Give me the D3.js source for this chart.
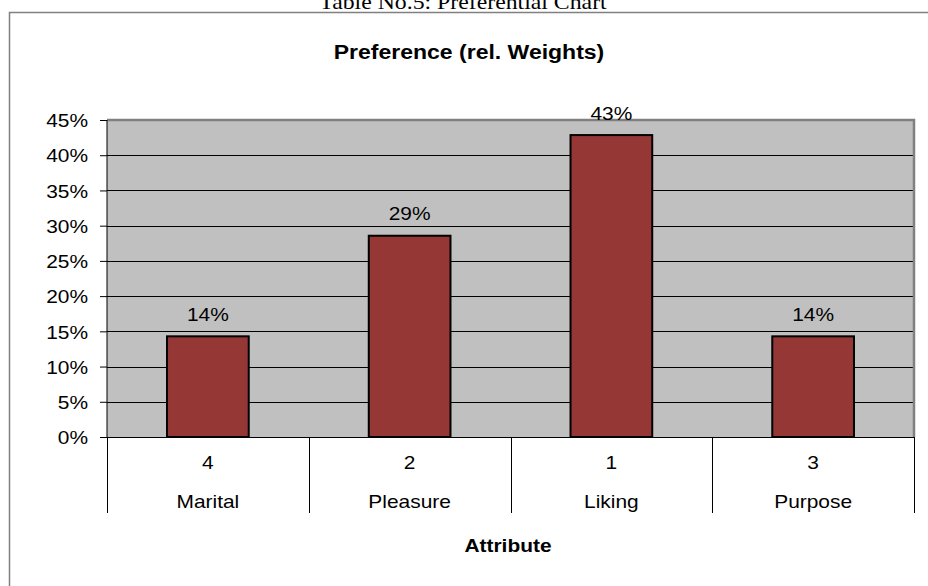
<!DOCTYPE html>
<html>
<head>
<meta charset="utf-8">
<script src="https://cdn.jsdelivr.net/npm/d3@7"></script>
<style>
  html, body { margin: 0; padding: 0; background: #fff; }
  svg { display: block; }
  text { font-family: Arial, "Liberation Sans", sans-serif; fill: #000; }
</style>
</head>
<body>
<svg id="chart" width="928" height="586"></svg>
<script>
// Preference (relative weights) per attribute
const attributes = ["Marital", "Pleasure", "Liking", "Purpose"];
const ranks = ["4", "2", "1", "3"];
const weights = [0.1429, 0.2857, 0.4286, 0.1429];
const yTicks = [0, 0.05, 0.10, 0.15, 0.20, 0.25, 0.30, 0.35, 0.40, 0.45];

const captionText = "Table No.5: Preferential Chart";
const titleText = "Preference (rel. Weights)";
const xTitleText = "Attribute";

const W = 928, H = 586;
const plot = { left: 107, right: 914, top: 120, bottom: 437 };
const catBottom = 513;
const barFrac = 0.405;
const fontSize = 18.5;
const stretchX = 1.13;

const svg = d3.select("#chart");

// Widen glyphs slightly to the chart's stretched lettering
function stretch(sel, k) {
  sel.each(function () {
    const len = this.getComputedTextLength();
    d3.select(this).attr("textLength", len * k).attr("lengthAdjust", "spacingAndGlyphs");
  });
}

// Document caption above the chart frame (partly cut by the page top)
svg.append("text")
  .attr("x", 463).attr("y", 9)
  .attr("text-anchor", "middle")
  .style("font-family", "'Times New Roman', 'Liberation Serif', serif")
  .style("font-size", "22px")
  .text(captionText)
  .call(stretch, 1.08);

// Chart frame
svg.append("rect")
  .attr("x", 9.5).attr("y", 12.5)
  .attr("width", 930).attr("height", 600)
  .attr("fill", "#fff")
  .attr("stroke", "#808080").attr("stroke-width", 1.5);

// Scales
const x = d3.scaleBand().domain(attributes).range([plot.left, plot.right]).padding(0);
const y = d3.scaleLinear().domain([0, 0.45]).range([plot.bottom, plot.top]);

// Plot background
svg.append("rect")
  .attr("x", plot.left).attr("y", plot.top)
  .attr("width", plot.right - plot.left).attr("height", plot.bottom - plot.top)
  .attr("fill", "#c0c0c0");

// Gridlines
svg.append("g")
  .selectAll("line")
  .data(yTicks.filter(d => d > 0 && d < 0.45))
  .join("line")
  .attr("x1", plot.left).attr("x2", plot.right)
  .attr("y1", d => Math.round(y(d)) + 0.5).attr("y2", d => Math.round(y(d)) + 0.5)
  .attr("stroke", "#000").attr("stroke-width", 1);

// Plot border (top and right in grey)
svg.append("path")
  .attr("d", `M${plot.left},${plot.top} H${plot.right} V${plot.bottom}`)
  .attr("fill", "none")
  .attr("stroke", "#808080").attr("stroke-width", 2.5);

// Bars
const bw = x.bandwidth() * barFrac;
svg.append("g")
  .selectAll("rect")
  .data(weights)
  .join("rect")
  .attr("x", (d, i) => x(attributes[i]) + (x.bandwidth() - bw) / 2)
  .attr("y", d => y(d))
  .attr("width", bw)
  .attr("height", d => y(0) - y(d))
  .attr("fill", "#953735")
  .attr("stroke", "#000").attr("stroke-width", 2);

// Value labels
svg.append("g")
  .selectAll("text")
  .data(weights)
  .join("text")
  .attr("x", (d, i) => x(attributes[i]) + x.bandwidth() / 2)
  .attr("y", d => y(d) - 15.5)
  .attr("text-anchor", "middle")
  .style("font-size", fontSize + "px")
  .text(d => d3.format(".0%")(d))
  .call(stretch, stretchX);

// Y axis
const yAxis = svg.append("g")
  .attr("transform", `translate(${plot.left},0)`)
  .call(d3.axisLeft(y).tickValues(yTicks).tickFormat(d3.format(".0%")).tickSize(7).tickPadding(12));
yAxis.select(".domain").attr("stroke", "#000").attr("d", `M0,${plot.top}V${plot.bottom}`);
yAxis.selectAll(".tick line").attr("stroke", "#000");
yAxis.selectAll(".tick text")
  .attr("font-family", null)
  .style("font-size", fontSize + "px")
  .attr("dy", "0.36em")
  .call(stretch, stretchX);

// Category axis: baseline, cell separators, rank and name rows
svg.append("line")
  .attr("x1", plot.left - 7).attr("x2", plot.right)
  .attr("y1", plot.bottom + 0.5).attr("y2", plot.bottom + 0.5)
  .attr("stroke", "#000");

const seps = attributes.map(a => x(a)).concat([plot.right]);
svg.append("g")
  .selectAll("line")
  .data(seps)
  .join("line")
  .attr("x1", d => Math.round(d) + 0.5).attr("x2", d => Math.round(d) + 0.5)
  .attr("y1", plot.bottom).attr("y2", catBottom)
  .attr("stroke", "#000");

svg.append("g")
  .selectAll("text")
  .data(ranks)
  .join("text")
  .attr("x", (d, i) => x(attributes[i]) + x.bandwidth() / 2)
  .attr("y", 469)
  .attr("text-anchor", "middle")
  .style("font-size", fontSize + "px")
  .text(d => d)
  .call(stretch, stretchX);

svg.append("g")
  .selectAll("text")
  .data(attributes)
  .join("text")
  .attr("x", d => x(d) + x.bandwidth() / 2)
  .attr("y", 508)
  .attr("text-anchor", "middle")
  .style("font-size", fontSize + "px")
  .text(d => d)
  .call(stretch, stretchX);

// Titles
svg.append("text")
  .attr("x", 469).attr("y", 59)
  .attr("text-anchor", "middle")
  .style("font-size", "20px").style("font-weight", "bold")
  .text(titleText)
  .call(stretch, 1.15);

svg.append("text")
  .attr("x", 508).attr("y", 552)
  .attr("text-anchor", "middle")
  .style("font-size", "19px").style("font-weight", "bold")
  .text(xTitleText)
  .call(stretch, 1.1);
</script>
</body>
</html>
